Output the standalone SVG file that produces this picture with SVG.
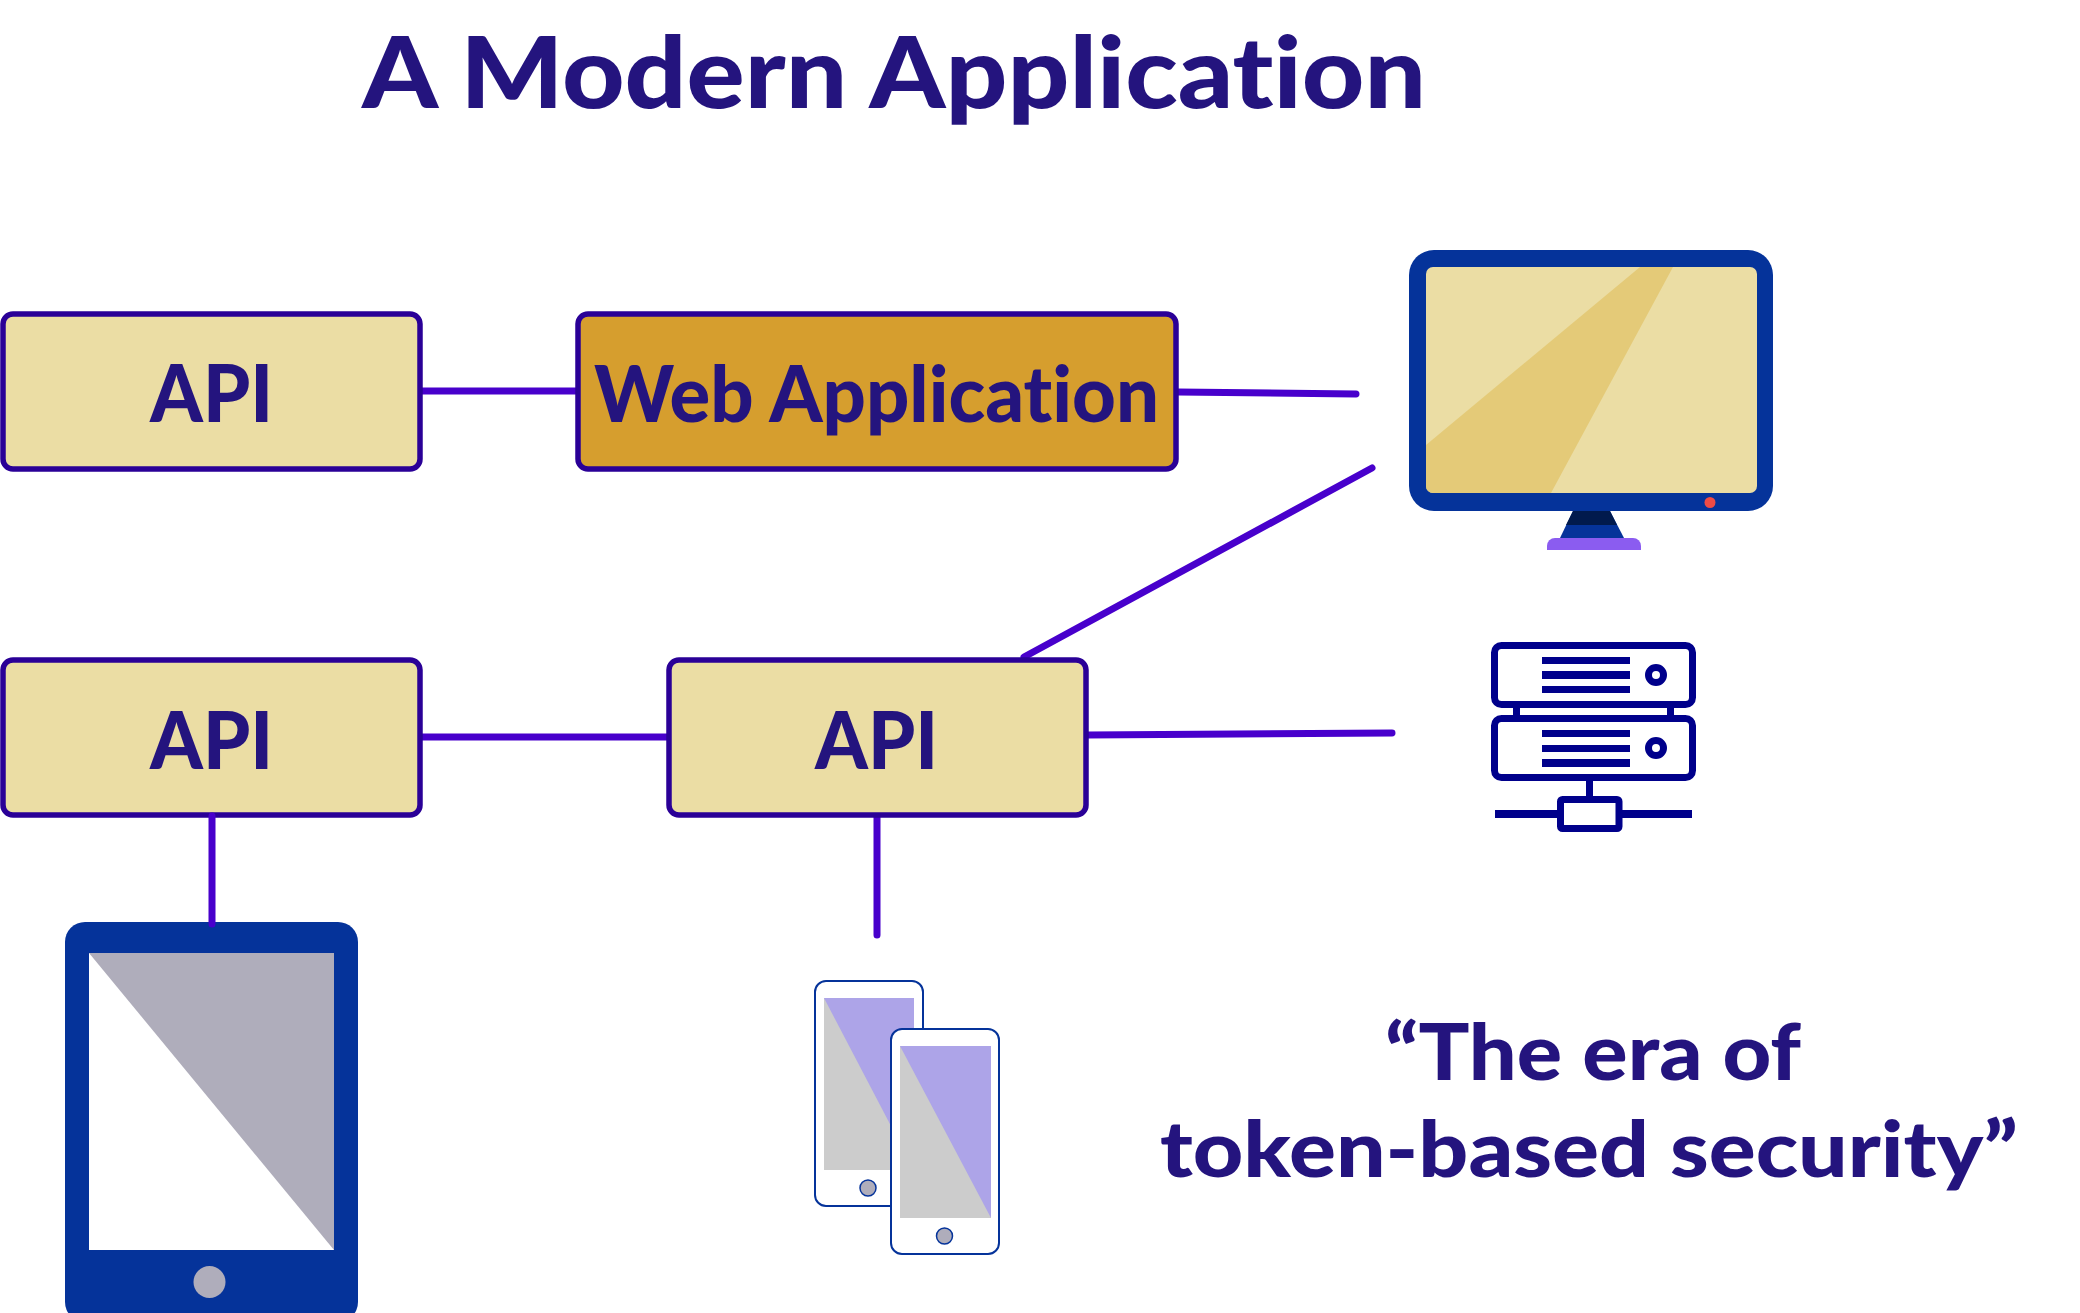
<svg xmlns="http://www.w3.org/2000/svg" width="2080" height="1313" viewBox="0 0 2080 1313">
<style>
text{font-family:"Lato","Liberation Sans",sans-serif;font-weight:900;fill:#24147e;font-variant-ligatures:none}
.box{stroke:#2a0097;stroke-width:5.500}
.api{fill:#ebdda4}
.con line{stroke:#4800cc;stroke-width:7;stroke-linecap:round}
.srv{fill:none;stroke:#00008b;stroke-width:7}
.bar{fill:#00008b}
.ph{fill:#fff;stroke:#05339a;stroke-width:2}
.btn{fill:#afadbb;stroke:#05339a;stroke-width:1.500}
</style>
<defs>
<clipPath id="scr"><rect x="1426" y="267" width="331" height="226" rx="7"/></clipPath>
</defs>
<rect width="2080" height="1313" fill="#fff"/>
<text id="title" x="362" y="108" font-size="100" textLength="1064" lengthAdjust="spacingAndGlyphs">A Modern Application</text>
<g id="connectors" class="con">
<line x1="420" y1="391" x2="577" y2="391"/>
<line x1="1178" y1="392" x2="1356" y2="394"/>
<line x1="1024" y1="657" x2="1372" y2="468"/>
<line x1="420" y1="737" x2="667" y2="737"/>
<line x1="1088" y1="735" x2="1392" y2="733"/>
<line x1="877" y1="816" x2="877" y2="935"/>
</g>
<g id="api-top"><rect class="box api" x="3" y="314" width="417" height="155" rx="10"/><text x="150" y="422" font-size="80" textLength="123" lengthAdjust="spacingAndGlyphs">API</text></g>
<g id="web-app"><rect class="box" fill="#d69e2e" x="578" y="314" width="598" height="155" rx="10"/><text x="594" y="422" font-size="78" textLength="565" lengthAdjust="spacingAndGlyphs">Web Application</text></g>
<g id="api-left"><rect class="box api" x="3" y="660" width="417" height="155" rx="10"/><text x="150" y="769" font-size="80" textLength="123" lengthAdjust="spacingAndGlyphs">API</text></g>
<g id="api-mid"><rect class="box api" x="669" y="660" width="417" height="155" rx="10"/><text x="815" y="769" font-size="80" textLength="123" lengthAdjust="spacingAndGlyphs">API</text></g>
<g id="monitor">
<rect x="1409" y="250" width="364" height="261" rx="25" fill="#05339a"/>
<rect x="1426" y="267" width="331" height="226" rx="7" fill="#ebdda4"/>
<polygon clip-path="url(#scr)" points="1640,267 1673,267 1551,493 1426,493 1426,445" fill="#e4ca78"/>
<circle cx="1710" cy="502.500" r="5.500" fill="#ef4b45"/>
<polygon points="1573,511 1610,511 1624,538 1560,538" fill="#05339a"/>
<polygon points="1573,511 1610,511 1617,525 1566,525" fill="#011a4d"/>
<path d="M1547,550V546a8,8 0 0 1 8-8H1633a8,8 0 0 1 8,8V550Z" fill="#8b5cf0"/>
</g>
<g id="server">
<rect class="srv" x="1494.500" y="645.500" width="198" height="59" rx="7"/>
<rect class="srv" x="1494.500" y="718.500" width="198" height="59" rx="7"/>
<rect class="bar" x="1542" y="657" width="88" height="7"/><rect class="bar" x="1542" y="671" width="88" height="8"/><rect class="bar" x="1542" y="686" width="88" height="7"/>
<rect class="bar" x="1542" y="730" width="88" height="7"/><rect class="bar" x="1542" y="745" width="88" height="7"/><rect class="bar" x="1542" y="759" width="88" height="8"/>
<circle class="srv" cx="1656" cy="675" r="7.500"/><circle class="srv" cx="1656" cy="748" r="7.500"/>
<rect class="bar" x="1513" y="707" width="7" height="9"/><rect class="bar" x="1667" y="707" width="7" height="9"/>
<rect class="bar" x="1586" y="781" width="7" height="16"/>
<rect class="srv" x="1560.500" y="799.500" width="58.500" height="29" rx="2"/>
<rect class="bar" x="1495" y="810" width="62" height="8"/><rect class="bar" x="1622" y="810" width="70" height="8"/>
</g>
<g id="tablet">
<rect x="65" y="922" width="293" height="400" rx="20" fill="#05339a"/>
<rect x="89" y="953" width="245" height="297" fill="#fff"/>
<polygon points="89,953 334,953 334,1250" fill="#afadbb"/>
<circle cx="209.500" cy="1282" r="16" fill="#afadbb"/>
</g>
<g class="con"><line x1="212" y1="816" x2="212" y2="924"/></g>
<g id="phone-back">
<rect class="ph" x="815" y="981" width="108" height="225" rx="11"/>
<rect x="824" y="998" width="90" height="172" fill="#ccc"/>
<polygon points="824,998 914,998 914,1170" fill="#ada4e8"/>
<circle class="btn" cx="868" cy="1188" r="8"/>
</g>
<g id="phone-front">
<rect class="ph" x="891" y="1029" width="108" height="225" rx="11"/>
<rect x="900" y="1046" width="91" height="172" fill="#ccc"/>
<polygon points="900,1046 991,1046 991,1218" fill="#ada4e8"/>
<circle class="btn" cx="944.500" cy="1236" r="8"/>
</g>
<g id="quote">
<text x="1385" y="1080" font-size="78" textLength="416" lengthAdjust="spacingAndGlyphs">“The era of</text>
<text x="1160" y="1177" font-size="78" textLength="858" lengthAdjust="spacingAndGlyphs">token-based security”</text>
</g>
</svg>
